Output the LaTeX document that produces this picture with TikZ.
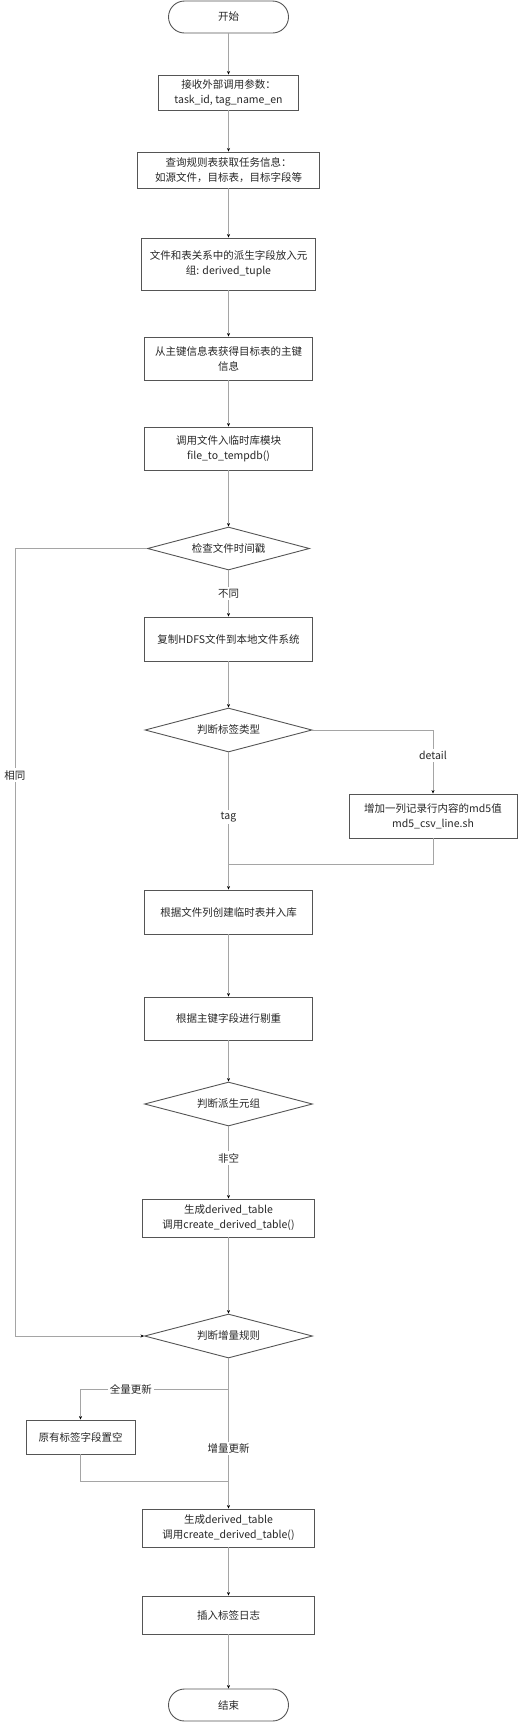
\documentclass[tikz,border=0pt]{standalone}
\usepackage{fontspec}
\setmainfont{Noto Sans CJK SC}
\usepackage{xcolor}
\usetikzlibrary{arrows.meta,shapes.geometric}
\definecolor{boxgray}{RGB}{85,85,85}
\definecolor{linegray}{RGB}{165,165,165}

\begin{document}
\begin{tikzpicture}[x=1pt,y=-1pt,>=Stealth,
  font=\fontsize{10.5}{15}\selectfont,
  proc/.style={draw=boxgray,line width=0.9pt,rectangle,align=center,inner sep=0pt,text=black!85},
  term/.style={draw=boxgray,line width=0.9pt,rectangle,rounded corners=16pt,minimum width=120pt,minimum height=32pt,inner sep=0pt,text=black!85},
  decide/.style={draw=boxgray,line width=0.9pt,diamond,aspect=4,inner sep=0pt,text=black!85},
  flow/.style={draw=linegray,line width=0.8pt,-{Stealth[length=3.5pt,width=3pt,color=black]}},
  link/.style={draw=linegray,line width=0.8pt},
  lbl/.style={fill=white,inner sep=2pt,text=black!85}]
  \useasboundingbox (0,0) rectangle (518,1722);
  % main column
  \node[term] (start) at (228.5,17) {开始};
  \node[proc,minimum width=140pt,minimum height=35pt] (recv) at (228.5,92.5) {接收外部调用参数：\\task\_id, tag\_name\_en};
  \node[proc,minimum width=182pt,minimum height=36pt] (query) at (228.5,170) {查询规则表获取任务信息：\\如源文件，目标表，目标字段等};
  \node[proc,minimum width=174pt,minimum height=52pt] (tuple) at (228.5,264) {文件和表关系中的派生字段放入元\\组: derived\_tuple};
  \node[proc,minimum width=168pt,minimum height=43pt] (pkey) at (228.5,358.5) {从主键信息表获得目标表的主键\\信息};
  \node[proc,minimum width=168pt,minimum height=43pt] (tempdb) at (228.5,448.5) {调用文件入临时库模块\\file\_to\_tempdb()};
  \node[decide,minimum width=162pt,minimum height=43pt] (chkts) at (228.5,548.5) {检查文件时间戳};
  \node[proc,minimum width=168pt,minimum height=44pt] (copy) at (228.5,639) {复制HDFS文件到本地文件系统};
  \node[decide,minimum width=167pt,minimum height=44pt] (dtype) at (228.5,730) {判断标签类型};
  \node[proc,minimum width=168pt,minimum height=44pt] (md5) at (433,816) {增加一列记录行内容的md5值\\md5\_csv\_line.sh};
  \node[proc,minimum width=168pt,minimum height=44pt] (build) at (228.5,912) {根据文件列创建临时表并入库};
  \node[proc,minimum width=168pt,minimum height=43pt] (dedup) at (228.5,1018.5) {根据主键字段进行剔重};
  \node[decide,minimum width=168pt,minimum height=44pt] (dtuple) at (228.5,1104) {判断派生元组};
  \node[proc,minimum width=172pt,minimum height=38pt] (derA) at (228.5,1218) {生成derived\_table\\调用create\_derived\_table()};
  \node[decide,minimum width=168pt,minimum height=44pt] (incr) at (228.5,1336) {判断增量规则};
  \node[proc,minimum width=109pt,minimum height=34pt] (clear) at (80.5,1437) {原有标签字段置空};
  \node[proc,minimum width=172pt,minimum height=38pt] (derB) at (228.5,1528) {生成derived\_table\\调用create\_derived\_table()};
  \node[proc,minimum width=172pt,minimum height=38pt] (logtag) at (228.5,1615) {插入标签日志};
  \node[term] (stop) at (228.5,1705) {结束};

  \coordinate (sameturn) at (15,548.5);
  \coordinate (mergept) at (228.5,864);
  \coordinate (fullsplit) at (228.5,1389);
  \coordinate (fulljoin) at (228.5,1481);

  % connectors
  \draw[flow] (start) -- (recv);
  \draw[flow] (recv) -- (query);
  \draw[flow] (query) -- (tuple);
  \draw[flow] (tuple) -- (pkey);
  \draw[flow] (pkey) -- (tempdb);
  \draw[flow] (tempdb) -- (chkts);
  \draw[flow] (chkts) -- node[lbl,pos=0.5]{不同} (copy);
  \draw[flow] (chkts.west) -- (sameturn) |- node[lbl,pos=0.144]{相同} (incr.west);
  \draw[flow] (copy) -- (dtype);
  \draw[flow] (dtype.east) -| node[lbl,pos=0.70]{detail} (md5.north);
  \draw[flow] (dtype) -- node[lbl,pos=0.47]{tag} (build);
  \draw[link] (md5.south) |- (mergept);
  \draw[flow] (build) -- (dedup);
  \draw[flow] (dedup) -- (dtuple);
  \draw[flow] (dtuple) -- node[lbl,pos=0.44]{非空} (derA);
  \draw[flow] (derA) -- (incr);
  \draw[flow] (incr) -- node[lbl,pos=0.6]{增量更新} (derB);
  \draw[flow] (fullsplit) -| node[lbl,pos=0.33]{全量更新} (clear.north);
  \draw[link] (clear.south) |- (fulljoin);
  \draw[flow] (derB) -- (logtag);
  \draw[flow] (logtag) -- (stop);
\end{tikzpicture}
\end{document}
